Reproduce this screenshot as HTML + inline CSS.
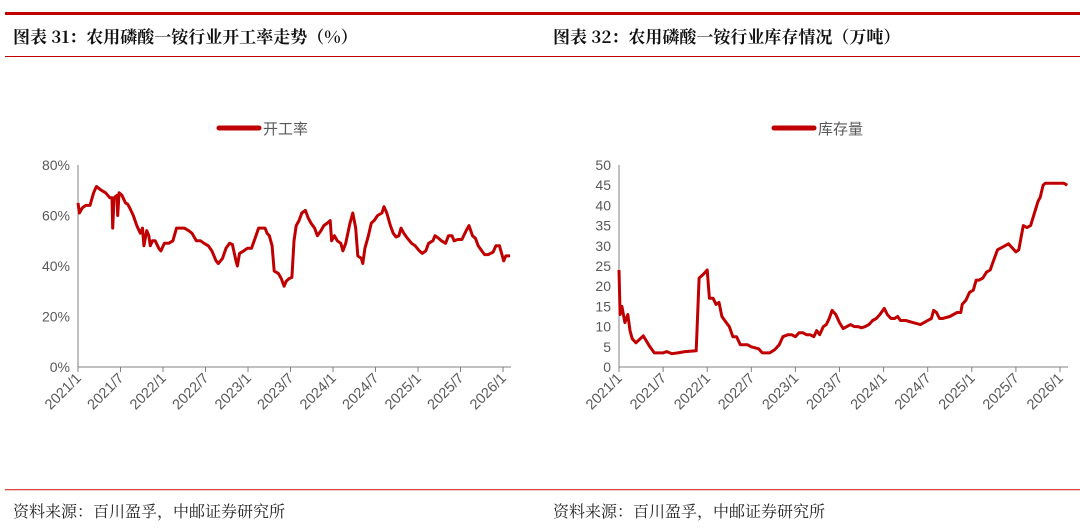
<!DOCTYPE html>
<html><head><meta charset="utf-8"><style>
body{margin:0;width:1080px;height:530px;background:#fff;overflow:hidden;font-family:"Liberation Sans","Noto Sans CJK SC",sans-serif}
svg{position:absolute;left:0;top:0}
</style></head><body>
<svg id="s" width="1080" height="530">
<rect x="5" y="12" width="1075" height="3" fill="#c00000"/>
<rect x="5" y="56" width="1075" height="1" fill="#c00000"/>
<rect x="5" y="489" width="1075" height="1.3" fill="#d84a4a"/>
<text x="13" y="43" font-family="'Noto Serif CJK SC',serif" font-weight="bold" font-size="17" fill="#111">图表 31：农用磷酸一铵行业开工率走势（%）</text>
<text x="553" y="43" font-family="'Noto Serif CJK SC',serif" font-weight="bold" font-size="17" fill="#111">图表 32：农用磷酸一铵行业库存情况（万吨）</text>
<text x="13" y="517" font-family="'Noto Serif CJK SC',serif" font-size="16" fill="#222">资料来源：百川盈孚，中邮证券研究所</text>
<text x="553" y="517" font-family="'Noto Serif CJK SC',serif" font-size="16" fill="#222">资料来源：百川盈孚，中邮证券研究所</text>
<line x1="219" y1="128" x2="259" y2="128" stroke="#c00000" stroke-width="5" stroke-linecap="round"/>
<text x="263" y="134" font-size="15" fill="#595959">开工率</text>
<line x1="774" y1="128" x2="814" y2="128" stroke="#c00000" stroke-width="5" stroke-linecap="round"/>
<text x="818" y="134" font-size="15" fill="#595959">库存量</text>
</svg>
<script>
const xLabels=["2021/1","2021/7","2022/1","2022/7","2023/1","2023/7","2024/1","2024/7","2025/1","2025/7","2026/1"];
const leftTicks=[0,20,40,60,80];
const rightTicks=[0,5,10,15,20,25,30,35,40,45,50];
const rateMonths=[0,0.2,0.6,1.1,1.7,2.2,2.6,3.3,3.9,4.5,4.8,4.9,5.1,5.5,5.6,5.8,6.2,6.7,7.0,7.3,7.8,8.3,8.8,9.1,9.3,9.7,10.0,10.2,10.5,10.9,11.4,11.7,12.2,12.8,13.4,13.9,14.5,15.0,15.6,16.1,16.7,17.3,17.8,18.4,18.9,19.5,19.8,20.4,20.9,21.4,21.8,22.3,22.5,22.8,23.4,23.9,24.5,25.0,25.5,25.9,26.4,26.7,27.0,27.4,27.7,28.3,28.7,29.1,29.4,29.8,30.2,30.5,30.8,31.2,31.6,32.1,32.5,32.9,33.4,33.8,34.3,34.7,35.2,35.6,35.8,36.2,36.6,37.1,37.4,37.8,38.4,38.8,39.2,39.5,40.0,40.2,40.5,41.0,41.4,41.8,42.3,42.9,43.2,43.6,44.1,44.5,44.9,45.3,45.6,46.0,46.5,47.1,47.6,48.2,48.6,49.1,49.5,50.1,50.4,50.9,51.3,51.9,52.3,52.8,53.1,53.6,54.2,54.8,55.2,55.7,56.1,56.5,57.0,57.4,57.9,58.6,59.0,59.5,59.9,60.1,60.4,61.0];
const rateValues=[65,61,63,64,64,69,71.5,70,69,67,67,55,67,68,60,69,68,65,64.5,63,60,56,53,55,48,54,52,48,50,50,47,46,49,49,50,55,55,55,54,53,50,50,49,48,46,42,41,43,47,49,48.5,42,40,45,46,47,47,51,55,55,55,53,52,48,38,37,35,32,34,35,35.5,50,56,58,61,62,59,57,55,52,54,56,57,58,50,52,50,49,46,49,57,61,55,44,43,41,47,52,57,58,60,61,63.5,61,56,53,51.5,52,55,53,51,49,48,46,45,46,49,50,52,51,50,49,52,52,50,50.5,50.5,54,56,52,51,48,46,44.5,44.5,45.5,48,48,44,42,44,44];
const stockMonths=[0,0.15,0.4,0.8,1.2,1.5,1.8,2.3,3.3,3.7,4.2,4.8,5.5,6,6.5,7.2,8,9,10.5,10.9,11.5,12,12.3,12.8,13.2,13.6,14,14.6,15,15.5,16,16.5,17.5,18,19,19.5,20.5,21.2,21.8,22.3,23,23.5,24,24.5,25,25.5,26,26.5,26.9,27.3,27.8,28.2,28.6,29,29.5,30,30.5,31,31.5,32,32.5,33,33.5,34,34.5,35,35.5,36.1,36.5,37,37.5,37.9,38.3,39,40,41,41.5,42,42.5,42.8,43.2,43.6,44,45,46,46.5,46.7,47.2,47.7,48.2,48.6,49,49.5,50,50.5,51,51.5,52,52.5,53,53.5,54,54.4,54.7,55,55.5,56,56.5,57,57.3,57.7,58,58.3,58.7,59.5,60.5,61];
const stockValues=[24,13,15,11,13,9,7,6,7.7,6.5,5,3.5,3.5,3.5,3.8,3.3,3.5,3.8,4,22,23,24,17,17,15.5,16,12.5,11,10,7.5,7.5,5.5,5.5,5,4.5,3.5,3.5,4.3,5.5,7.5,8,8,7.5,8.5,8.5,8,8,7.5,9,8,10,10.5,12,14,13,11,9.5,10,10.5,10,10,9.7,10,10.5,11.5,12,13,14.5,13,12,12,12.5,11.5,11.5,11,10.5,11,11.5,12,14,13.5,12,12,12.5,13.5,13.5,15.5,16.5,18.5,19,21.5,21.5,22,23.5,24,26.5,29,29.5,30,30.5,29.5,28.5,29,32,35,34.5,35,38,41,42,45,45.5,45.5,45.5,45.5,45.5,45];
const NS="http://www.w3.org/2000/svg",svg=document.getElementById('s');
function mk(t,a,p){const e=document.createElementNS(NS,t);for(const k in a)e.setAttribute(k,a[k]);(p||svg).appendChild(e);return e;}
function chart(cfg){
  const {x0,x1,yTop,yBot,maxY,ticks,fmt,months,values,pre,tickStep}=cfg;
  const X=m=>x0+m*tickStep/6, Y=v=>yBot-(v/maxY)*(yBot-yTop);
  const g=mk('g',{});
  
  
  ticks.forEach(t=>{const tx=mk('text',{x:x0-8,y:Y(t)+5,'text-anchor':'end','font-size':'14',fill:'#595959'},g);tx.textContent=fmt(t);
    
    });
  const ya=mk('line',{x1:x0,y1:yTop,x2:x0,y2:yBot,stroke:'#808080','stroke-width':1},g);
  
  
  const xa=mk('line',{x1:x0,y1:yBot,x2:x1,y2:yBot,stroke:'#808080','stroke-width':1},g);
  
  
  xLabels.forEach((l,i)=>{const x=X(i*6);
    const tk=mk('line',{x1:x,y1:yBot,x2:x,y2:yBot+5,stroke:'#808080'},g);
    
    
    const tx=mk('text',{x:x+4,y:yBot+12,'text-anchor':'end','font-size':'14.5',fill:'#595959',transform:`rotate(-45 ${x+4} ${yBot+12})`},g);
    tx.textContent=l;
    
    });
  const d=months.map((m,i)=>(i?'L':'M')+X(m).toFixed(1)+' '+Y(values[i]).toFixed(1)).join('');
  const p=mk('path',{d,fill:'none',stroke:'#c00000','stroke-width':3,'stroke-linejoin':'round'},g);
  
  
}
chart({pre:'left',x0:78,x1:511,yTop:165,yBot:367,maxY:80,ticks:leftTicks,fmt:t=>t+'%',months:rateMonths,values:rateValues,tickStep:42.5});
chart({pre:'right',x0:619,x1:1068,yTop:165,yBot:367,maxY:50,ticks:rightTicks,fmt:t=>t,months:stockMonths,values:stockValues,tickStep:44.1});
</script>
</body></html>
